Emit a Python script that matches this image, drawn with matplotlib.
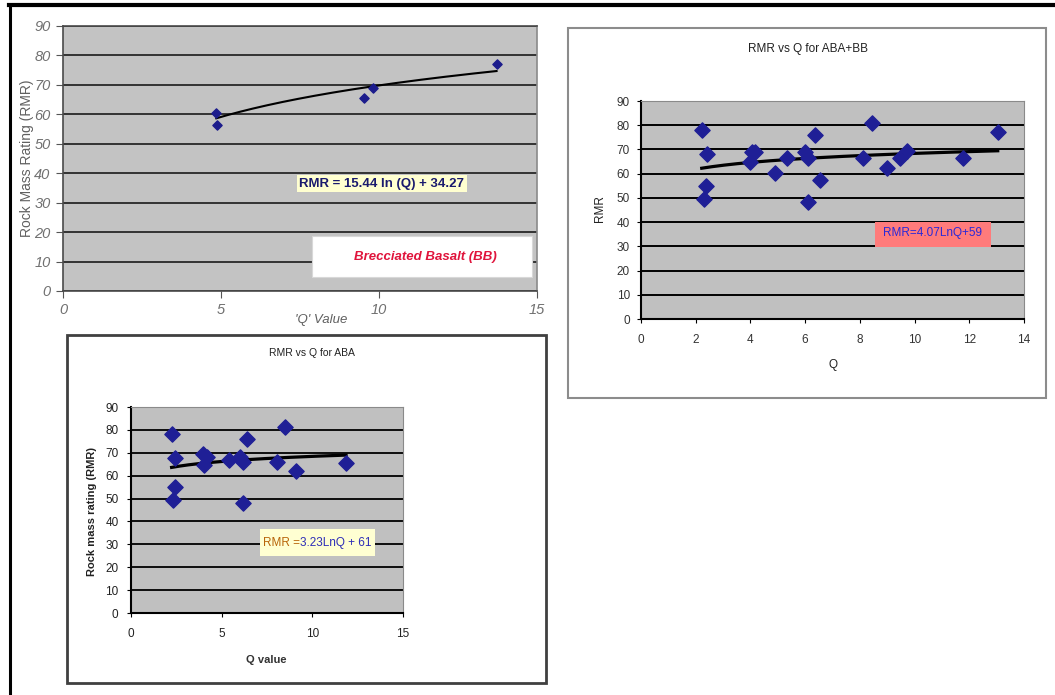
import numpy as np
import matplotlib.pyplot as plt
from matplotlib.patches import Rectangle
from matplotlib.lines import Line2D

plt.rcParams['font.family'] = ['Liberation Sans', 'DejaVu Sans']

W, H = 1055, 695

# Brecciated Basalt (BB)
bb_q = [4.85, 4.87, 9.53, 9.82, 13.72]
bb_rmr = [60.5, 56.5, 65.5, 69.0, 77.0]
bb_fit = (15.44, 34.27)

# ABA + BB together
all_q = [2.22, 2.40, 2.38, 2.31, 3.98, 4.05, 4.17, 4.90, 5.32, 5.99, 6.12,
         6.36, 6.12, 6.54, 8.13, 8.43, 8.98, 9.47, 9.71, 11.78, 13.04]
all_rmr = [78.0, 68.0, 55.0, 49.5, 64.7, 69.1, 69.1, 60.1, 66.6, 69.1, 66.6,
           76.0, 48.4, 57.4, 66.3, 80.8, 62.5, 66.3, 69.5, 66.3, 77.1]
all_fit = (4.07, 59.0)

# ABA only
aba_q = [2.24, 2.43, 2.43, 2.30, 3.99, 4.17, 4.03, 5.42, 6.01, 6.16, 6.38,
         6.19, 8.07, 8.51, 9.10, 11.86]
aba_rmr = [78.1, 67.9, 54.9, 49.5, 69.3, 68.3, 64.7, 66.8, 68.3, 66.1, 75.9,
           47.9, 66.1, 81.3, 62.0, 65.7]
aba_fit = (3.23, 61.0)

rmr_ticks = list(range(0, 91, 10))


def px_axes(fig, x0, y0, x1, y1):
    # axes placed by pixel corners (origin top-left)
    return fig.add_axes([x0 / W, 1 - y1 / H, (x1 - x0) / W, (y1 - y0) / H])


def px_text(fig, x, y, s, **kw):
    return fig.text(x / W, 1 - y / H, s, ha='center', va='center', **kw)


def px_box(fig, x0, y0, x1, y1, color, lw):
    fig.add_artist(Rectangle((x0 / W, 1 - y1 / H), (x1 - x0) / W, (y1 - y0) / H,
                             transform=fig.transFigure, fill=False,
                             edgecolor=color, linewidth=lw))


def log_trend(ax, q, coef, lw):
    qq = np.linspace(min(q), max(q), 200)
    ax.plot(qq, coef[0] * np.log(qq) + coef[1], color='black', lw=lw, zorder=3)


def style_excel(ax, bg, grid_color, grid_lw):
    ax.set_facecolor(bg)
    ax.set_ylim(0, 90)
    ax.set_yticks(rmr_ticks)
    ax.yaxis.grid(True, color=grid_color, lw=grid_lw)
    ax.set_axisbelow(True)


fig = plt.figure(figsize=(W / 100, H / 100), dpi=100)
fig.patch.set_facecolor('white')

# ---- BB chart (top left) ----
ax1 = px_axes(fig, 63, 26, 537, 291)
style_excel(ax1, '#c3c3c3', '#333333', 1.4)
ax1.set_xlim(0, 15)
ax1.set_xticks([0, 5, 10, 15])
ax1.tick_params(direction='out', length=5, color='#555555',
                labelcolor='#707070', labelsize=10.5, pad=4)
for lab in ax1.get_xticklabels() + ax1.get_yticklabels():
    lab.set_fontstyle('italic')
for s in ax1.spines.values():
    s.set_color('#4a4a4a')
    s.set_linewidth(1.2)
ax1.spines['right'].set_color('#8a8a8a')
ax1.scatter(bb_q, bb_rmr, marker='D', s=22, color='#1c1c8c', zorder=4)
log_trend(ax1, bb_q, bb_fit, 1.5)
px_text(fig, 27, 158, 'Rock Mass Rating (RMR)', fontsize=10, color='#606060',
        rotation=90)
px_text(fig, 321, 320, "'Q' Value", fontsize=9.5, color='#606060',
        fontstyle='italic')
ax1.text(10.09, 36.5, 'RMR = 15.44 ln (Q) + 34.27', fontsize=9.5,
         fontweight='bold', color='#1a1a6e', ha='center', va='center', zorder=5,
         bbox=dict(boxstyle='square,pad=0.2', fc='#ffffd0', ec='none'))
ax1.add_patch(Rectangle((7.88, 4.76), 6.96, 13.94, facecolor='white',
                        edgecolor='#d8d8d8', lw=0.8, zorder=4))
ax1.text(11.46, 11.5, 'Brecciated Basalt (BB)', fontsize=9.5, fontweight='bold',
         fontstyle='italic', color='#e0143c', ha='center', va='center', zorder=5)

# ---- ABA+BB chart (right) ----
px_box(fig, 568, 28, 1046, 398, '#8c8c8c', 1.5)
ax2 = px_axes(fig, 641, 101, 1024, 319)
style_excel(ax2, '#c0c0c0', 'black', 1.4)
ax2.set_xlim(0, 14)
ax2.set_xticks(range(0, 15, 2))
ax2.tick_params(axis='both', direction='out', length=3, color='black',
                labelcolor='#333333', labelsize=8.5)
ax2.tick_params(axis='x', pad=8)
ax2.tick_params(axis='y', pad=5)
for side in ('left', 'bottom'):
    ax2.spines[side].set_color('black')
    ax2.spines[side].set_linewidth(1.5)
for side in ('top', 'right'):
    ax2.spines[side].set_color('#8a8a8a')
ax2.scatter(all_q, all_rmr, marker='D', s=60, color='#1f1f96', zorder=4)
log_trend(ax2, all_q, all_fit, 2.3)
px_text(fig, 808, 49, 'RMR vs Q for ABA+BB', fontsize=8.5, color='#222222')
px_text(fig, 833, 365, 'Q', fontsize=8.5, color='#222222')
px_text(fig, 600, 209, 'RMR', fontsize=8.5, color='#222222', rotation=90)
ax2.add_patch(Rectangle((8.55, 29.7), 4.24, 10.3, facecolor='#ff7b7b',
                        edgecolor='none', zorder=4))
ax2.text(10.67, 35.3, 'RMR=4.07LnQ+59', fontsize=8.5, color='#2a2ad8',
         ha='center', va='center', zorder=5)

# ---- ABA chart (bottom left) ----
px_box(fig, 67, 335, 546, 683, '#404040', 2)
ax3 = px_axes(fig, 131, 407, 403, 613)
style_excel(ax3, '#c0c0c0', 'black', 1.3)
ax3.set_xlim(0, 15)
ax3.set_xticks([0, 5, 10, 15])
ax3.tick_params(axis='both', direction='out', length=3, color='black',
                labelcolor='#222222', labelsize=8.5)
ax3.tick_params(axis='x', pad=8)
ax3.tick_params(axis='y', pad=6)
for side in ('left', 'bottom'):
    ax3.spines[side].set_color('black')
    ax3.spines[side].set_linewidth(1.5)
for side in ('top', 'right'):
    ax3.spines[side].set_color('#8a8a8a')
ax3.scatter(aba_q, aba_rmr, marker='D', s=60, color='#1f1f96', zorder=4)
log_trend(ax3, aba_q, aba_fit, 2.3)
px_text(fig, 312, 353, 'RMR vs Q for ABA', fontsize=7.5, color='#222222')
px_text(fig, 266, 660, 'Q value', fontsize=8, fontweight='bold', color='#333333')
px_text(fig, 92, 511, 'Rock mass rating (RMR)', fontsize=8, fontweight='bold',
        color='#222222', rotation=90)
ax3.add_patch(Rectangle((7.12, 24.9), 6.35, 11.8, facecolor='#ffffd2',
                        edgecolor='none', zorder=4))
t1 = ax3.text(7.28, 30.6, 'RMR =', fontsize=8.5, color='#b8650a',
              ha='left', va='center', zorder=5)
ax3.annotate('3.23LnQ + 61', xy=(1, 0), xycoords=t1, xytext=(0, 0),
             textcoords='offset points', fontsize=8.5, color='#2d2db8',
             ha='left', va='bottom', zorder=5)

# outer frame (left and top edges only)
fig.add_artist(Line2D([10 / W, 10 / W], [0, 1 - 4.5 / H], transform=fig.transFigure,
                      color='black', lw=2.2))
fig.add_artist(Line2D([9 / W, 1], [1 - 4.5 / H, 1 - 4.5 / H], transform=fig.transFigure,
                      color='black', lw=3))

fig.savefig('out.png', dpi=100)
